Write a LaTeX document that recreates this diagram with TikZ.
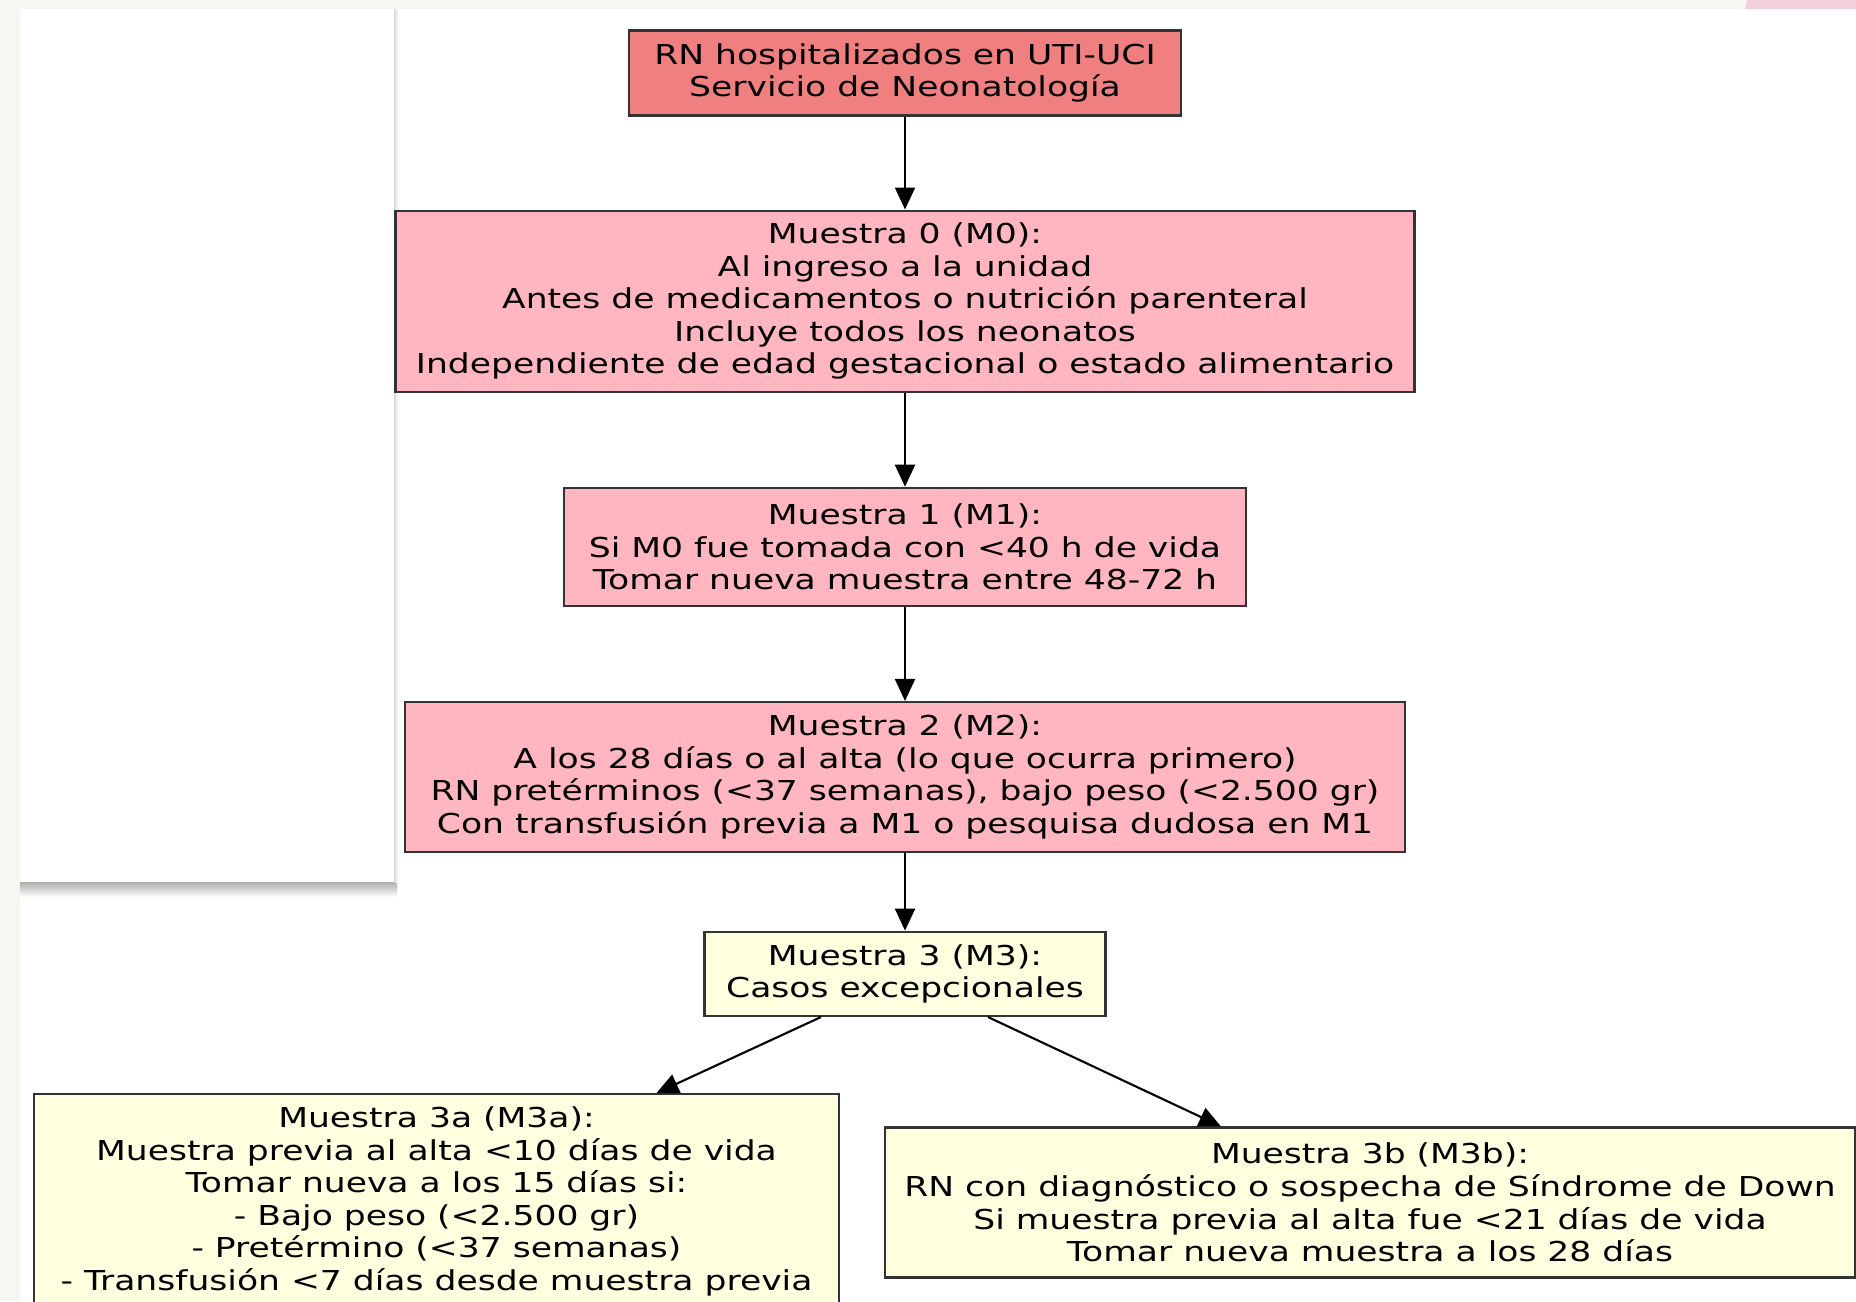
\documentclass[tikz,border=0pt]{standalone}
\usepackage{fontspec}
\usetikzlibrary{arrows.meta, positioning, calc}
\newfontfamily\dvsans[FakeStretch=1.26]{DejaVu Sans}
\definecolor{pagebg}{HTML}{F7F6F1}
\definecolor{cornerpink}{HTML}{F2CFDD}
\definecolor{startred}{HTML}{F08080}
\definecolor{samplepink}{HTML}{FFB6C1}
\definecolor{excyellow}{HTML}{FFFFE0}
\definecolor{boxline}{HTML}{333333}

\begin{document}
\begin{tikzpicture}[
    every node/.style={font=\dvsans\fontsize{7.8pt}{9.25pt}\selectfont},
    box/.style={rectangle, draw=boxline, line width=0.6pt, align=center, inner sep=0pt},
    redbox/.style={box, fill=startred},
    pinkbox/.style={box, fill=samplepink},
    yellowbox/.style={box, fill=excyellow},
    arr/.style={-{Triangle[length=0.22cm, width=0.2cm]}, line width=0.6pt}
]
\useasboundingbox (0,0) rectangle (18.56,-13.01);
\clip (0,0) rectangle (18.56,-13.01);

% page background and card shadow
\fill[pagebg] (0,0) rectangle (18.56,-13.01);
\fill[white] (0.20,-0.09) rectangle (18.56,-13.01);
\fill[cornerpink] (17.45,-0.09) -- (17.47,0) -- (18.56,0) -- (18.56,-0.09) -- cycle;
\shade[top color=black!32, bottom color=white] (0.20,-8.82) rectangle (3.97,-8.97);
\shade[left color=black!15, right color=white] (3.94,-0.09) rectangle (3.98,-8.82);

\node[redbox, minimum width=5.52cm, minimum height=0.85cm] (rn) at (9.05,-0.73)
    {RN hospitalizados en UTI-UCI\\Servicio de Neonatología};
\node[pinkbox, minimum width=10.19cm, minimum height=1.815cm] (m0) at (9.05,-3.013)
    {Muestra 0 (M0):\\Al ingreso a la unidad\\Antes de medicamentos o nutrición parenteral\\Incluye todos los neonatos\\Independiente de edad gestacional o estado alimentario};
\node[pinkbox, minimum width=6.82cm, minimum height=1.183cm] (m1) at (9.05,-5.469)
    {Muestra 1 (M1):\\Si M0 fue tomada con <40 h de vida\\Tomar nueva muestra entre 48-72 h};
\node[pinkbox, minimum width=10.0cm, minimum height=1.50cm] (m2) at (9.05,-7.77)
    {Muestra 2 (M2):\\A los 28 días o al alta (lo que ocurra primero)\\RN pretérminos (<37 semanas), bajo peso (<2.500 gr)\\Con transfusión previa a M1 o pesquisa dudosa en M1};
\node[yellowbox, minimum width=4.01cm, minimum height=0.843cm] (m3) at (9.05,-9.738)
    {Muestra 3 (M3):\\Casos excepcionales};
\node[yellowbox, minimum width=8.055cm, minimum height=2.145cm] (m3a) at (4.365,-12.013)
    {Muestra 3a (M3a):\\Muestra previa al alta <10 días de vida\\Tomar nueva a los 15 días si:\\- Bajo peso (<2.500 gr)\\- Pretérmino (<37 semanas)\\- Transfusión <7 días desde muestra previa};
\node[yellowbox, minimum width=9.70cm, minimum height=1.50cm] (m3b) at (13.70,-12.025)
    {Muestra 3b (M3b):\\RN con diagnóstico o sospecha de Síndrome de Down\\Si muestra previa al alta fue <21 días de vida\\Tomar nueva muestra a los 28 días};

\draw[arr] (rn) -- (m0);
\draw[arr] (m0) -- (m1);
\draw[arr] (m1) -- (m2);
\draw[arr] (m2) -- (m3);
\draw[arr] ([xshift=-0.84cm]m3.south) -- ([xshift=2.2cm]m3a.north);
\draw[arr] ([xshift=0.83cm]m3.south) -- ([xshift=-1.49cm]m3b.north);
\end{tikzpicture}
\end{document}
